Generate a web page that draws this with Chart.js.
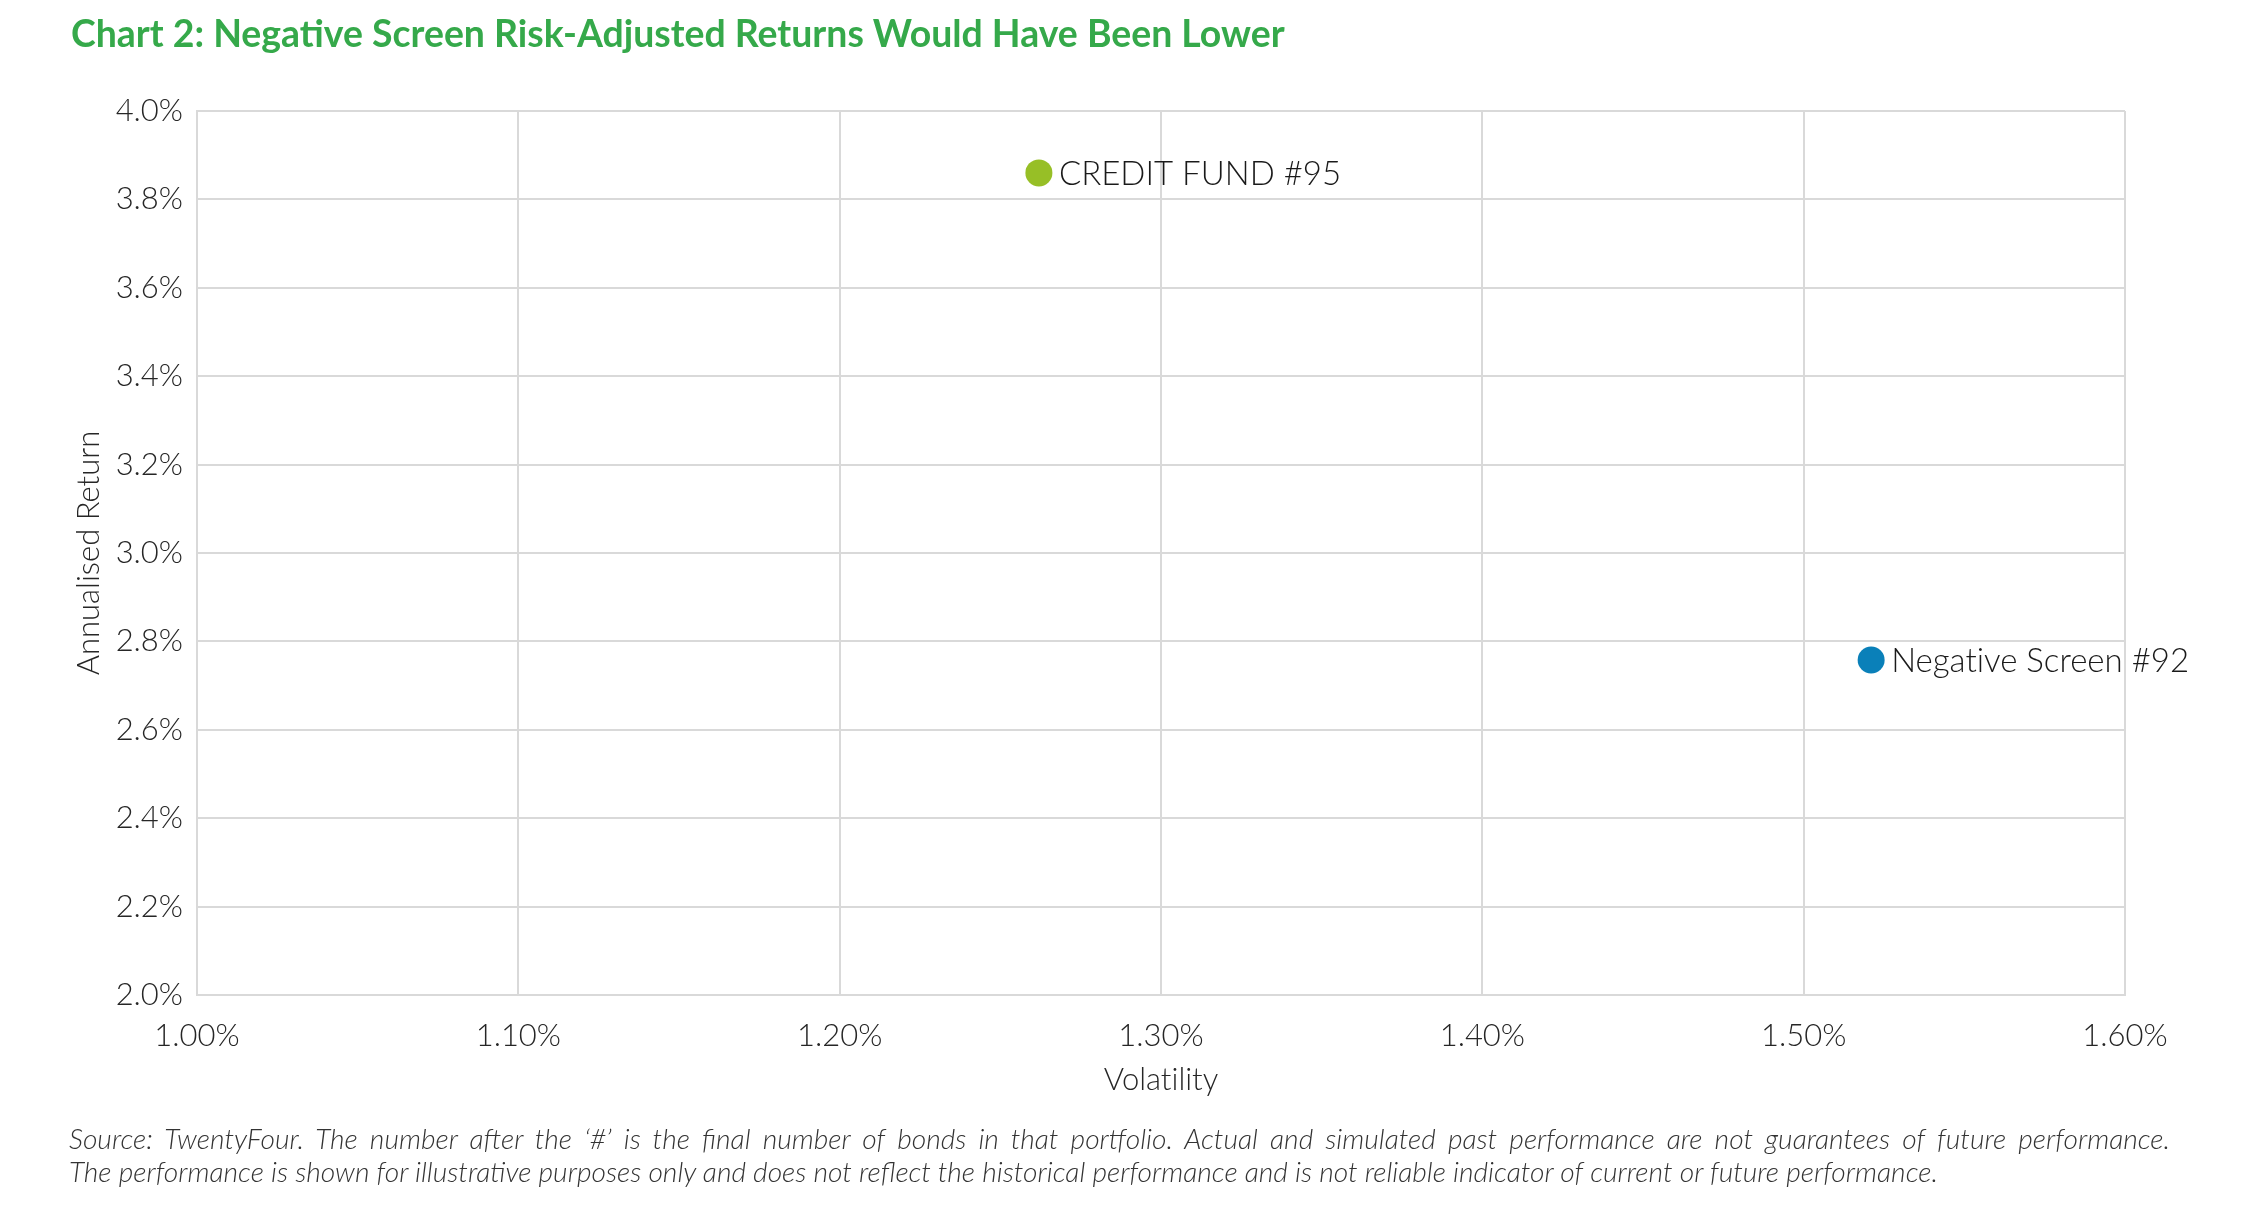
<!DOCTYPE html>
<html>
<head>
<meta charset="utf-8">
<script src="https://cdn.jsdelivr.net/npm/chart.js@4.4.0/dist/chart.umd.min.js"></script>
<style>
  body { margin: 0; background: #fff; }
  #wrap { position: relative; width: 2254px; height: 1213px; font-variant-ligatures: none; }
  canvas { position: absolute; left: 0; top: 0; }
  #title { position: absolute; left: 71px; top: 14px; font: 700 37.4px Lato; line-height: 1; color: #35a94a; white-space: nowrap; }
  .note { position: absolute; left: 69px; width: 2101px; font: italic 300 28.2px/33px Lato; color: #333; white-space: nowrap; }
  #note1 { top: 1122px; text-align: justify; text-align-last: justify; white-space: normal; }
  #note2 { top: 1155px; }
</style>
</head>
<body>
<div id="wrap">
  <canvas id="chart" width="2254" height="1213"></canvas>
  <div id="title">Chart 2: Negative Screen Risk-Adjusted Returns Would Have Been Lower</div>
  <div class="note" id="note1">Source: TwentyFour. The number after the ‘#’ is the final number of bonds in that portfolio. Actual and simulated past performance are not guarantees of future performance.</div>
  <div class="note" id="note2">The performance is shown for illustrative purposes only and does not reflect the historical performance and is not reliable indicator of current or future performance.</div>
</div>
<script>
// Data
const fundNames = ['CREDIT FUND #95', 'Negative Screen #92'];
const volatility = [1.262, 1.521];     // %
const annualReturn = [3.86, 2.758];    // %
const pointColors = ['#97bf26', '#0a80b9'];

const xMin = 1.0, xMax = 1.6, xStep = 0.1;
const yMin = 2.0, yMax = 4.0, yStep = 0.2;

const inkColor = '#262626';
const gridColor = '#d9d9d9';

// writes each fund name just right of its dot
const pointLabels = {
  id: 'pointLabels',
  afterDatasetsDraw(chart) {
    const ctx = chart.ctx;
    const meta = chart.getDatasetMeta(0);
    ctx.save();
    ctx.font = '300 33px Lato';
    ctx.fillStyle = '#1a1a1a';
    ctx.textAlign = 'left';
    ctx.textBaseline = 'middle';
    meta.data.forEach((pt, i) => {
      ctx.fillText(fundNames[i], pt.x + 20, pt.y + 1);
    });
    ctx.restore();
  }
};

Chart.defaults.font.family = 'Lato';
Chart.defaults.font.weight = 300;
Chart.defaults.color = inkColor;

new Chart(document.getElementById('chart'), {
  type: 'scatter',
  data: {
    datasets: [{
      label: 'Funds',
      data: volatility.map((v, i) => ({ x: v, y: annualReturn[i] })),
      pointRadius: 13.5,
      pointHoverRadius: 13.5,
      pointBorderWidth: 0,
      pointBackgroundColor: pointColors,
      pointBorderColor: pointColors
    }]
  },
  options: {
    responsive: false,
    animation: false,
    devicePixelRatio: 1,
    layout: { padding: { left: 0, top: 111, right: 129, bottom: 98 } },
    plugins: { legend: { display: false }, tooltip: { enabled: false } },
    scales: {
      x: {
        type: 'linear',
        min: xMin, max: xMax,
        afterFit: s => { s.height = 120; },
        grid: { color: gridColor, lineWidth: 2, drawTicks: false },
        border: { color: gridColor, width: 2 },
        ticks: {
          stepSize: xStep,
          padding: 22,
          font: { size: 31 },
          callback: v => v.toFixed(2) + '%'
        },
        title: { display: true, text: 'Volatility', font: { size: 31 }, padding: { top: 0, bottom: 16 } }
      },
      y: {
        type: 'linear',
        min: yMin, max: yMax,
        afterFit: s => { s.width = 197; },
        grid: { color: gridColor, lineWidth: 2, drawTicks: false },
        border: { color: gridColor, width: 2 },
        ticks: {
          stepSize: yStep,
          padding: 14,
          font: { size: 31 },
          callback: v => v.toFixed(1) + '%'
        },
        title: { display: true, text: 'Annualised Return', font: { size: 31 }, padding: { top: 70, bottom: 0 } }
      }
    }
  },
  plugins: [pointLabels]
});
</script>
</body>
</html>
